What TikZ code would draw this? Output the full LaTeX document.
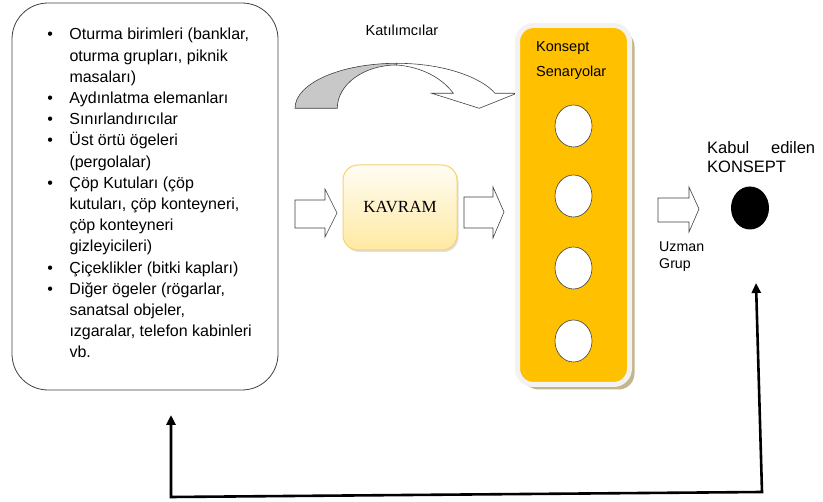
\documentclass[tikz,border=0pt]{standalone}
\usepackage{fontspec}
\setmainfont{Liberation Sans}
\newfontfamily\kavramfont{Liberation Serif}
\usetikzlibrary{shapes.geometric,arrows.meta,shadows}
\definecolor{cizgi}{HTML}{404040}
\definecolor{sari}{HTML}{FFC000}
\definecolor{kenar}{HTML}{F2F2F2}
\definecolor{golge}{HTML}{C4B68C}
\definecolor{krem}{HTML}{FFFDF4}
\definecolor{acsari}{HTML}{FFE9A2}
\definecolor{altin}{HTML}{F7D36B}
\definecolor{gri}{HTML}{C8C8C8}
\tikzset{
  kutu/.style={draw=cizgi, line width=0.8pt, rounded corners=36pt},
  blokok/.style={draw=cizgi, fill=white, line width=0.6pt, line join=miter},
  egriok/.style={draw=cizgi, line width=0.6pt},
  kavramkutu/.style={draw=altin, line width=1pt, rounded corners=15pt,
    top color=krem, bottom color=acsari,
    drop shadow={shadow xshift=1.5pt, shadow yshift=-2pt, opacity=0.25},
    font=\kavramfont\fontsize{17}{20}\selectfont},
  kolon/.style={fill=sari, draw=kenar, line width=5pt, rounded corners=16pt,
    drop shadow={shadow xshift=5pt, shadow yshift=-5pt, fill=golge, opacity=1}},
  senaryo/.style={ellipse, draw=cizgi, fill=white, line width=0.6pt, inner sep=0pt},
  geribildirim/.style={line width=2.6pt, line join=miter,
    {Triangle[length=10pt,width=9pt]}-{Triangle[length=10pt,width=9pt]}}
}
\begin{document}
\begin{tikzpicture}[x=1pt, y=-1pt]
  \useasboundingbox (0,0) rectangle (823,502);

  % sol kutu: kentsel donatilar
  \node[kutu, minimum width=266pt, minimum height=387pt] (ogeler) at (145,196.5) {};
  \node[anchor=base west, inner sep=0pt, font=\fontsize{16}{21.2}\selectfont] (liste) at (47.2,40)
    {\begin{tabular}[t]{@{}l@{\hspace{16.5pt}}l@{}}
      \textbullet & Oturma birimleri (banklar,\\
                  & oturma grupları, piknik\\
                  & masaları)\\
      \textbullet & Aydınlatma elemanları\\
      \textbullet & Sınırlandırıcılar\\
      \textbullet & Üst örtü ögeleri\\
                  & (pergolalar)\\
      \textbullet & Çöp Kutuları (çöp\\
                  & kutuları, çöp konteyneri,\\
                  & çöp konteyneri\\
                  & gizleyicileri)\\
      \textbullet & Çiçeklikler (bitki kapları)\\
      \textbullet & Diğer ögeler (rögarlar,\\
                  & sanatsal objeler,\\
                  & ızgaralar, telefon kabinleri\\
                  & vb.
    \end{tabular}};

  % katilimcilar egri ok
  \node[anchor=base, inner sep=0pt, font=\fontsize{14.5}{17}\selectfont] (katilimcilar) at (402,36) {Katılımcılar};
  \draw[egriok, fill=gri] (295,108.3) .. controls (295,83.4) and (340.5,63.3) .. (396.7,63.3)
    -- (396.7,65) .. controls (363.9,65) and (337.3,84.4) .. (337.3,108.3) -- cycle;
  \draw[egriok, fill=white, line join=miter] (396.7,63.3) .. controls (445,63.3) and (482,78) .. (495,93.3)
    -- (516.7,93.3) -- (479.3,108.3) -- (431.7,93.3) -- (453.3,93.3)
    .. controls (442,78) and (422,67) .. (396.7,65) -- cycle;

  % kavram
  \draw[blokok] (295,200) -- (325,200) -- (325,189) -- (337,213) -- (325,237) -- (325,228) -- (295,228) -- cycle;
  \node[kavramkutu, minimum width=114pt, minimum height=85pt] (kavram) at (400,207.5) {KAVRAM};
  \draw[blokok] (464,197) -- (493,197) -- (493,187) -- (504,212) -- (493,238) -- (493,228) -- (464,228) -- cycle;

  % konsept senaryolar
  \node[kolon, minimum width=112pt, minimum height=359pt] (senaryolar) at (573.5,205) {};
  \node[anchor=base west, inner sep=0pt, font=\fontsize{14.5}{25}\selectfont] (baslik) at (536,51.7)
    {\begin{tabular}[t]{@{}l@{}}Konsept\\Senaryolar\end{tabular}};
  \foreach \i/\y in {1/126,2/196,3/268,4/341}
    \node[senaryo, minimum width=37pt, minimum height=42pt] (s\i) at (573.5,\y) {};

  % uzman grup ve kabul edilen konsept
  \draw[blokok] (658,198) -- (689,198) -- (689,187) -- (699,209) -- (689,232) -- (689,222) -- (658,222) -- cycle;
  \node[anchor=base west, inner sep=0pt, font=\fontsize{14.2}{17.3}\selectfont] (uzman) at (659,251.7)
    {\begin{tabular}[t]{@{}l@{}}Uzman\\Grup\end{tabular}};
  \node[anchor=base west, inner sep=0pt, font=\fontsize{16.5}{19.4}\selectfont] (kabulyazi) at (707,153.3)
    {\begin{tabular}[t]{@{}p{108pt}@{}}Kabul\hfill edilen\\KONSEPT\end{tabular}};
  \node[ellipse, fill=black, inner sep=0pt, minimum width=38pt, minimum height=43pt] (kabul) at (750,208) {};

  % geri besleme
  \coordinate (geriSol) at (171,415);
  \coordinate (kose1) at (171,497);
  \coordinate (kose2) at (762,492);
  \coordinate (geriSag) at (756,283);
  \draw[geribildirim] (geriSol) -- (kose1) -- (kose2) -- (geriSag);
\end{tikzpicture}
\end{document}
